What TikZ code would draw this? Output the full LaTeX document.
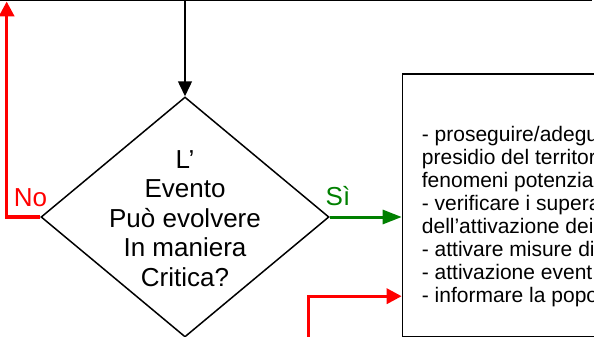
\documentclass[tikz,border=0pt]{standalone}
\usepackage{fontspec}
\setmainfont{Liberation Sans}
\usetikzlibrary{arrows.meta,shapes.geometric}
\definecolor{sigreen}{RGB}{0,128,0}
\tikzset{
  outline/.style={draw=black, line width=1.5pt, inner sep=0pt},
  blackarrow/.style={line width=1.5pt, -{Triangle[length=15pt,width=14pt]}},
  redarrow/.style={draw=red, line width=3.3pt, -{Triangle[length=15pt,width=15pt]}},
  greenarrow/.style={draw=sigreen, line width=3pt, -{Triangle[length=19pt,width=14pt]}},
  bigtext/.style={font=\fontsize{26}{29.5}\selectfont, inner sep=0pt},
  boxtext/.style={font=\fontsize{21}{23}\selectfont, inner sep=0pt, align=left}
}
\begin{document}
\begin{tikzpicture}[x=1pt,y=-1pt]
\useasboundingbox (0,0) rectangle (594,337);
% box above (mostly outside)
\node[outline, anchor=south east, minimum width=700pt, minimum height=100pt] (top) at (592.3,1.5) {};
% decision diamond
\node[outline, diamond, minimum width=288pt, minimum height=240pt] (q) at (185,217) {};
\node[bigtext, align=center, anchor=base] (qt) at (185,286) {L’\\Evento\\Può evolvere\\In maniera\\Critica?};
% action box
\node[outline, anchor=north west, minimum width=300pt, minimum height=262.2pt] (box) at (401.7,73.3) {};
\node[boxtext, anchor=base west] (bt) at (421.7,302) {- proseguire/adegu\\presidio del territor\\fenomeni potenzia\\- verificare i supera\\dell’attivazione dei\\- attivare misure di\\- attivazione event\\- informare la popo};
% connectors
\draw[blackarrow] (top.south -| q.north) -- (q.north);
\coordinate (lc) at (6.7,217);
\draw[redarrow] (q.west) -- (lc) -- (lc |- top.south);
\draw[greenarrow] (q.east) -- (box.west |- q.east);
\coordinate (rb) at (308.8,345);
\coordinate (rk) at (308.8,296.2);
\draw[redarrow] (rb) -- (rk) -- (box.west |- rk);
% labels
\node[bigtext, text=red, anchor=base] (no) at (30.5,206) {No};
\node[bigtext, text=sigreen, anchor=base] (si) at (338,205.7) {Sì};
\end{tikzpicture}
\end{document}
